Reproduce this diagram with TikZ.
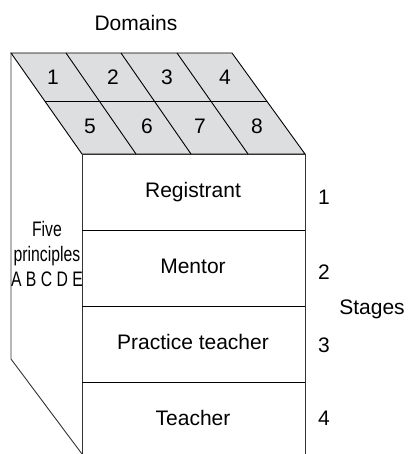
\documentclass[tikz,border=0pt]{standalone}
\usepackage{fontspec}
\setmainfont{Liberation Sans}
\newfontfamily\narrowfont[FakeStretch=0.75]{Liberation Sans}
\usepackage{xcolor}
\definecolor{cellgray}{RGB}{221,222,224}

\begin{document}
\begin{tikzpicture}[x=1pt,y=-1pt,font=\fontsize{21}{25}\selectfont]
            \useasboundingbox (0,0) rectangle (407,454);

            % top face
            \filldraw[fill=cellgray,line width=0.9pt] (11,53) -- (232,53) -- (305,154) -- (82,154) -- cycle;
            \draw[line width=0.9pt] (44.7,101) -- (266.7,101);
            \draw[line width=0.9pt] (66,53) -- (136,154);
            \draw[line width=0.9pt] (121,53) -- (191,154);
            \draw[line width=0.9pt] (177,53) -- (248,154);

            % front face
            \draw[line width=0.9pt,black!80] (82,454) -- (82,154) -- (305,154) -- (305,454);
            \draw[line width=0.9pt] (82,230) -- (305,230);
            \draw[line width=0.9pt] (82,306) -- (305,306);
            \draw[line width=0.9pt] (82,382) -- (305,382);

            % left face
            \draw[line width=0.9pt,black!80] (11,53) -- (11,359) -- (82,454);

            \node (domains) at (136,23) {Domains};
            \foreach \n/\x in {1/53,2/113,3/167,4/225}
                \node (dom\n) at (\x,77) {\n};
            \foreach \n/\x in {5/90,6/147,7/200,8/257}
                \node (dom\n) at (\x,126) {\n};

            \node (registrant) at (193,192) {Registrant};
            \node (mentor) at (193,266) {Mentor};
            \node (practice) at (193,342) {Practice teacher};
            \node (teacher) at (193,418) {Teacher};

            \node (stage1) at (324,197) {1};
            \node (stage2) at (324,272) {2};
            \node (stage3) at (324,345) {3};
            \node (stage4) at (324,418) {4};
            \node (stages) at (372,309) {Stages};

            \node (principles) at (47,254) [align=center,inner sep=0pt] {\narrowfont Five\\ \narrowfont principles\\ \narrowfont A B C D E};

        \end{tikzpicture}
\end{document}
